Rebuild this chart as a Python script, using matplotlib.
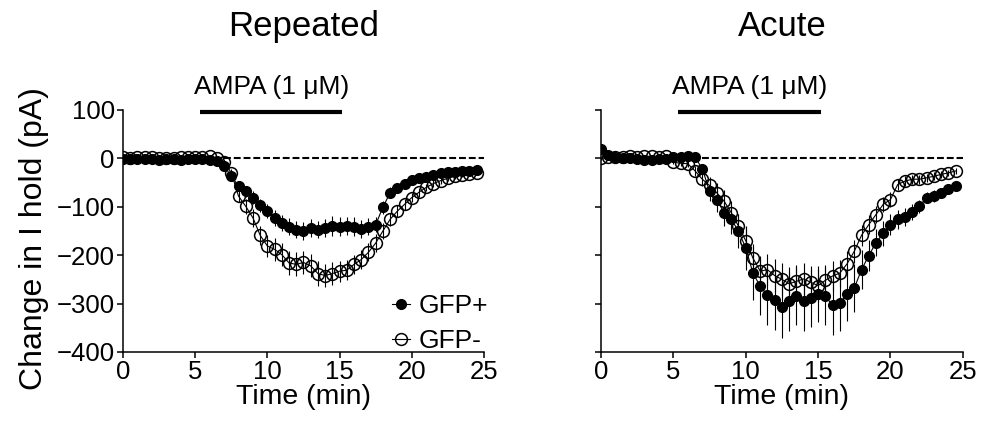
import numpy as np
import matplotlib
matplotlib.use("Agg")
import matplotlib.pyplot as plt
from matplotlib.lines import Line2D

plt.rcParams["font.family"] = ["Liberation Sans", "DejaVu Sans"]

# time points, every 0.5 min
time = np.arange(0, 25, 0.5)

# Repeated panel
rep_pos = [-1, -2, -2, -1, -2, -3, -2, -1, -3, -2, -1, -2, -4, -5, -16, -37, -57, -68, -81, -97,
           -109, -123, -133, -141, -147, -150, -144, -147, -144, -140, -141, -140, -141, -146, -141, -137,
           -101, -71, -61, -52, -45, -41, -38, -34, -31, -29, -28, -27, -26, -25]
rep_pos_err = [2, 2, 2, 2, 2, 2, 2, 2, 2, 2, 2, 2, 3, 3, 5, 7, 9, 11, 13, 14,
               15, 16, 17, 18, 18, 19, 18, 18, 19, 20, 19, 18, 19, 18, 17, 16,
               14, 11, 10, 9, 8, 7, 6, 6, 5, 5, 5, 4, 4, 4]
rep_neg = [2, 1, 2, 3, 2, 1, 0, 1, 2, 3, 2, 3, 4, 0, -7, -30, -78, -99, -123, -159,
           -181, -188, -199, -216, -219, -215, -222, -238, -242, -238, -233, -231, -219, -209, -194, -175,
           -150, -126, -109, -95, -81, -70, -60, -52, -46, -41, -37, -34, -32, -30]
rep_neg_err = [2, 2, 2, 2, 2, 2, 2, 2, 2, 2, 2, 2, 3, 3, 5, 8, 12, 15, 18, 20,
               22, 23, 24, 24, 25, 24, 24, 25, 24, 23, 22, 21, 20, 20, 19, 18,
               16, 14, 12, 11, 10, 9, 8, 7, 6, 6, 5, 5, 5, 5]

# Acute panel
acu_pos = [19, 8, 3, 1, 0, -2, -3, -4, -2, -1, 2, 3, 4, 2, -21, -68, -85, -112, -126, -150,
           -185, -237, -264, -283, -292, -306, -295, -285, -295, -288, -281, -285, -303, -299, -281, -268,
           -230, -201, -174, -155, -137, -126, -121, -111, -99, -81, -78, -71, -64, -57]
acu_pos_err = [4, 4, 3, 3, 3, 3, 3, 3, 3, 3, 3, 3, 4, 5, 10, 20, 25, 28, 30, 35,
               45, 55, 60, 62, 63, 65, 62, 60, 62, 60, 58, 60, 62, 58, 55, 50,
               40, 32, 28, 25, 22, 20, 18, 16, 14, 12, 12, 10, 10, 9]
acu_neg = [0, 2, 3, 2, 4, 3, 5, 4, 3, 5, -8, -10, -11, -26, -43, -56, -71, -88, -112, -140,
           -170, -206, -233, -230, -242, -250, -259, -254, -249, -256, -263, -252, -243, -237, -218, -192,
           -159, -137, -116, -95, -85, -54, -47, -43, -43, -40, -37, -33, -30, -26]
acu_neg_err = [3, 3, 3, 3, 3, 3, 3, 3, 3, 3, 4, 5, 6, 10, 15, 18, 20, 22, 24, 26,
               28, 30, 32, 33, 34, 34, 35, 34, 33, 33, 34, 32, 30, 28, 26, 24,
               22, 20, 18, 16, 15, 12, 10, 9, 9, 8, 8, 7, 7, 7]

panels = [
    ("Repeated", rep_pos, rep_pos_err, rep_neg, rep_neg_err),
    ("Acute", acu_pos, acu_pos_err, acu_neg, acu_neg_err),
]

fig = plt.figure(figsize=(9.86, 4.3), dpi=100)
ax_left = fig.add_axes([0.1248, 0.1814, 0.366, 0.5628])
ax_right = fig.add_axes([0.6095, 0.1814, 0.367, 0.5628])

for ax, (title, pos, pos_err, neg, neg_err) in zip([ax_left, ax_right], panels):
    ax.plot([7, 25], [0, 0], color="black", lw=1.5, dashes=(3.3, 1.4), zorder=1)
    ax.errorbar(time, pos, yerr=pos_err, fmt="-o", color="black", ms=7, lw=0.8,
                elinewidth=0.8, capsize=0, zorder=3)
    ax.errorbar(time, neg, yerr=neg_err, fmt="-o", color="black", mfc="none", ms=8.5,
                mew=1.1, lw=0.8, elinewidth=0.8, capsize=0, zorder=2)

    ax.set_xlim(0, 25)
    ax.set_ylim(-400, 100)
    ax.set_xticks([0, 5, 10, 15, 20, 25])
    ax.set_yticks([100, 0, -100, -200, -300, -400])
    ax.spines["top"].set_visible(False)
    ax.spines["right"].set_visible(False)
    for s in ["left", "bottom"]:
        ax.spines[s].set_linewidth(1.1)
    ax.tick_params(direction="out", length=4, width=1.1, labelsize=18.5, pad=2)
    ax.set_xlabel("Time (min)", fontsize=20.5, labelpad=0)

    # AMPA application bar
    ax.plot([5.3, 15.2], [96, 96], color="black", lw=3, solid_capstyle="butt", clip_on=False)
    ax.text(10.3, 147, "AMPA (1 \u03bcM)", ha="center", va="center", fontsize=19)
    ax.text(0.5, 1.343, title, transform=ax.transAxes, ha="center", va="center", fontsize=25)

ax_left.set_yticklabels(["100", "0", "\u2212100", "\u2212200", "\u2212300", "\u2212400"])
ax_right.set_yticklabels([])

handles = [
    Line2D([], [], color="black", marker="o", ms=7, lw=0.8),
    Line2D([], [], color="black", marker="o", mfc="none", ms=8.5, mew=1.1, lw=0.8),
]
ax_left.legend(handles, ["GFP+", "GFP-"], loc="lower right", bbox_to_anchor=(1.04, -0.047),
               frameon=False, fontsize=19, handlelength=0.7, handletextpad=0.3,
               labelspacing=0.4, borderaxespad=0)

fig.text(0.034, 0.446, "Change in I hold (pA)", rotation=90, ha="center", va="center", fontsize=23)

fig.savefig("out.png", dpi=100)
